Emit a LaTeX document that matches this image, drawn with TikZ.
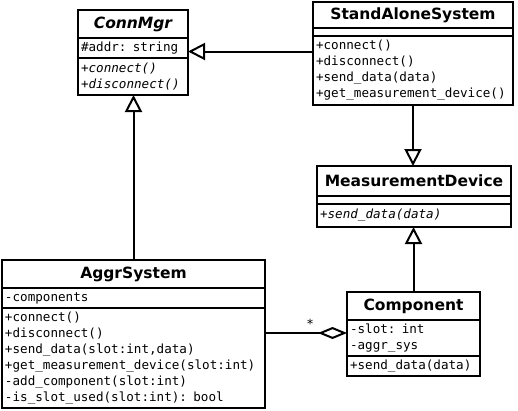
\documentclass[tikz,border=0pt]{standalone}
\usepackage{fontspec}
\setmainfont{DejaVu Sans}
\setmonofont{DejaVu Sans Mono}
\usetikzlibrary{arrows.meta,positioning}

\begin{document}
\begin{tikzpicture}[
        %We set the units to pixels and define some styles
        x=1pt, y=-1pt,
        class title/.style={draw, line width=2pt, outer sep=0pt, anchor=north west, inner sep=0pt, align=center,
            font=\fontsize{15.5}{18}\selectfont\bfseries},
        abstract title/.style={class title, font=\fontsize{15.5}{18}\selectfont\bfseries\itshape},
        members/.style={draw, line width=2pt, outer sep=0pt, inner xsep=3pt, inner ysep=0pt, align=left,
            font=\fontsize{12.6}{16}\selectfont\ttfamily},
        abstract members/.style={members, font=\fontsize{12.6}{16}\selectfont\ttfamily\itshape},
        inherit/.style={line width=2pt, -{Triangle[open, length=17pt, width=17pt]}},
        aggregate/.style={line width=2pt, {Diamond[open, length=29pt, width=12pt]}-},
        every node/.style={color=black}
     ]
    \useasboundingbox (0,0) rectangle (518,410);

    % ConnMgr class
    \node[abstract title, minimum width=110pt, minimum height=28pt] (cm-title) at (78,10) {ConnMgr};
    \node[members, below=0pt of cm-title, text width=104pt, minimum height=20pt] (cm-attr) {\#addr: string};
    \node[abstract members, below=0pt of cm-attr, text width=104pt, minimum height=37pt] (cm-ops)
        {+connect()\\+disconnect()};

    % StandAloneSystem class
    \node[class title, minimum width=200pt, minimum height=26pt] (sa-title) at (313,2) {StandAloneSystem};
    \node[members, below=0pt of sa-title, text width=194pt, minimum height=8pt] (sa-attr) {};
    \node[members, below=0pt of sa-attr, text width=194pt, minimum height=69pt] (sa-ops)
        {+connect()\\+disconnect()\\+send\_data(data)\\+get\_measurement\_device()};

    % MeasurementDevice class
    \node[class title, minimum width=194pt, minimum height=30pt] (md-title) at (317,166) {MeasurementDevice};
    \node[members, below=0pt of md-title, text width=188pt, minimum height=8pt] (md-attr) {};
    \node[abstract members, below=0pt of md-attr, text width=188pt, minimum height=23pt] (md-ops)
        {+send\_data(data)};

    % AggrSystem class
    \node[class title, minimum width=263pt, minimum height=28pt] (ag-title) at (2,260) {AggrSystem};
    \node[members, below=0pt of ag-title, text width=257pt, minimum height=20pt] (ag-attr) {-components};
    \node[members, below=0pt of ag-attr, text width=257pt, minimum height=100pt] (ag-ops)
        {+connect()\\+disconnect()\\+send\_data(slot:int,data)\\+get\_measurement\_device(slot:int)\\
         -add\_component(slot:int)\\-is\_slot\_used(slot:int): bool};

    % Component class
    \node[class title, minimum width=133pt, minimum height=28pt] (cp-title) at (347,292) {Component};
    \node[members, below=0pt of cp-title, text width=127pt, minimum height=36pt] (cp-attr)
        {-slot: int\\-aggr\_sys};
    \node[members, below=0pt of cp-attr, text width=127pt, minimum height=20pt] (cp-ops) {+send\_data(data)};

    % Generalisations
    \coordinate (cm-join) at ([yshift=-3.5pt]cm-attr.east);
    \draw[inherit] (sa-ops.west |- cm-join) -- (cm-join);
    \draw[inherit] (sa-ops.south) -- (sa-ops.south |- md-title.north);
    \draw[inherit] (cp-title.north) -- (cp-title.north |- md-ops.south);
    \draw[inherit] (ag-title.north) -- (ag-title.north |- cm-ops.south);

    % Aggregation
    \coordinate (cp-join) at ([yshift=5pt]cp-attr.west);
    \draw[aggregate] (cp-join) -- (cp-join -| ag-ops.east)
        node[pos=0.45, above, font=\fontsize{12.6}{16}\selectfont\ttfamily] (mult) {*};
\end{tikzpicture}
\end{document}
